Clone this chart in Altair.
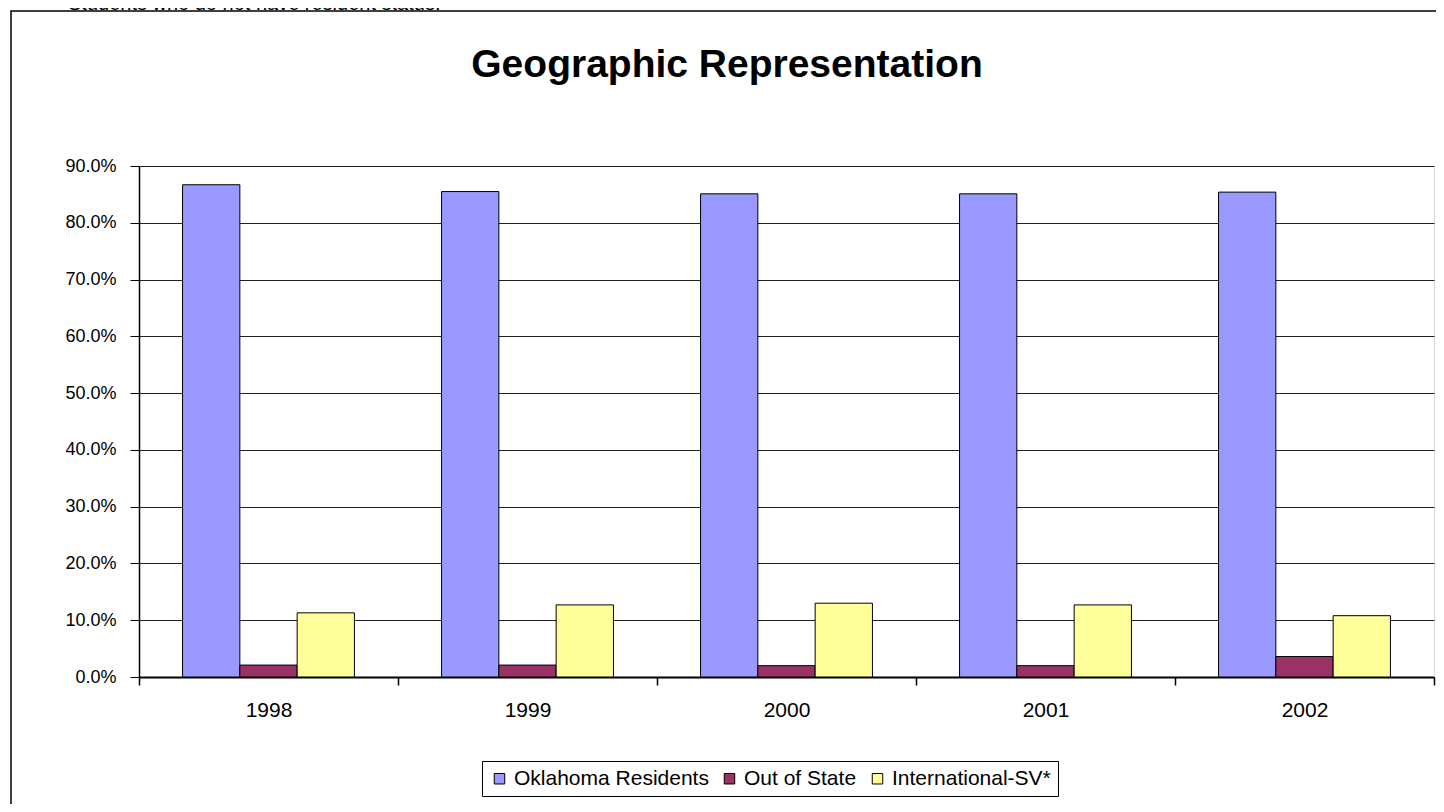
import altair as alt
import pandas as pd

# ---- data ----
years = ["1998", "1999", "2000", "2001", "2002"]
series = ["Oklahoma Residents", "Out of State", "International-SV*"]
oklahoma = [0.867, 0.855, 0.851, 0.851, 0.854]
out_of_state = [0.021, 0.021, 0.020, 0.020, 0.036]
international = [0.113, 0.127, 0.130, 0.127, 0.108]
y_ticks = [0.0, 0.1, 0.2, 0.3, 0.4, 0.5, 0.6, 0.7, 0.8, 0.9]
colors = ["#9999FF", "#993366", "#FFFF99"]
title_text = "Geographic Representation"
caption_text = "Students who do not have resident status."

rows = []
for i, yr in enumerate(years):
    for s, vals in zip(series, [oklahoma, out_of_state, international]):
        rows.append({"Year": yr, "Group": s, "Share": vals[i]})
df = pd.DataFrame(rows)

FONT = "Liberation Sans"
W, H = 1295, 511

bars = alt.Chart(df).mark_bar(stroke="black", strokeWidth=1).encode(
    x=alt.X(
        "Year:N",
        sort=years,
        scale=alt.Scale(paddingInner=0, paddingOuter=0),
        axis=alt.Axis(
            title=None, labelAngle=0, tickBand="extent", grid=False,
            domainColor="black", domainWidth=2, tickColor="black", tickSize=8,
            tickWidth=1.5, labelFontSize=21, labelFont=FONT, labelColor="black",
            labelPadding=14,
        ),
    ),
    xOffset=alt.XOffset(
        "Group:N", sort=series,
        scale=alt.Scale(paddingInner=0, paddingOuter=0.76),
    ),
    y=alt.Y(
        "Share:Q",
        scale=alt.Scale(domain=[0, 0.9], nice=False),
        axis=alt.Axis(
            title=None, format=".1%", values=y_ticks, grid=True,
            gridColor="#222222", gridWidth=1, gridOpacity=1,
            domainColor="black", domainWidth=1.5, tickColor="black",
            tickSize=9, labelFontSize=18, labelFont=FONT, labelColor="black",
            labelPadding=14,
        ),
    ),
    color=alt.Color(
        "Group:N", sort=series,
        scale=alt.Scale(domain=series, range=colors),
        legend=alt.Legend(
            title=None, orient="none", legendX=343, legendY=595,
            direction="horizontal", columns=3, symbolType="square",
            symbolSize=110, symbolStrokeColor="black", symbolStrokeWidth=1,
            symbolOpacity=1, labelFontSize=21, labelFont=FONT,
            labelColor="black", labelLimit=0, columnPadding=10, labelOffset=4,
            strokeColor="black", padding=7, fillColor="white",
        ),
    ),
)

deco = pd.DataFrame({"k": [0]})

border = alt.Chart(deco).mark_rect(
    fillOpacity=0, stroke="black", strokeWidth=1.5
).encode(
    x=alt.value(-128), x2=alt.value(1320),
    y=alt.value(-155), y2=alt.value(700),
)

title = alt.Chart(deco).mark_text(
    text=title_text, font=FONT, fontSize=39, fontWeight="bold",
    color="black", align="center", baseline="alphabetic",
).encode(x=alt.value(588), y=alt.value(-89))

caption = alt.Chart(deco).mark_text(
    text=caption_text, font=FONT, fontSize=20, color="black",
    align="left", baseline="alphabetic",
).encode(x=alt.value(-71), y=alt.value(-156))

chart = alt.layer(bars, border, title, caption).properties(
    width=W, height=H,
    autosize=alt.AutoSizeParams(type="none"),
    padding={"left": 131, "top": 158, "right": 2, "bottom": 127},
).configure_view(
    stroke="#808080", strokeWidth=1.5
).configure(background="white")

chart.save("out.html", embed_options={"renderer": "svg", "actions": False})
